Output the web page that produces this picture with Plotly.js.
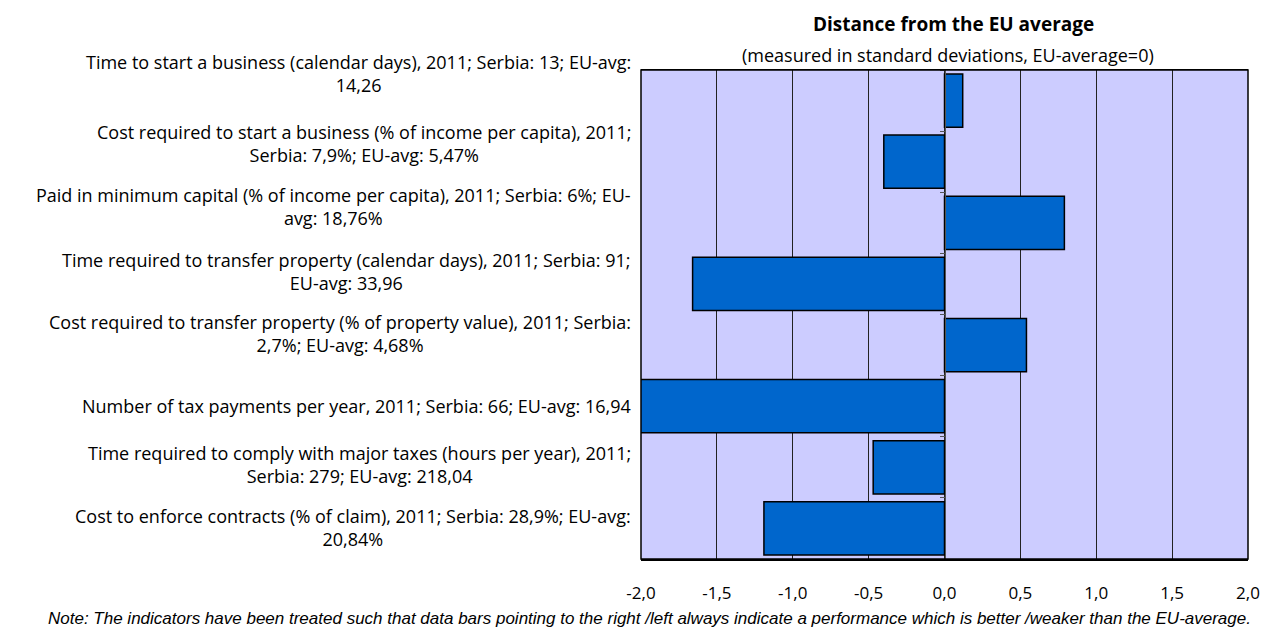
<!DOCTYPE html>
<html>
<head>
<meta charset="utf-8">
<script src="https://cdn.plot.ly/plotly-3.0.1.min.js"></script>
<style>html,body{margin:0;padding:0;background:#fff;}#chart{width:1272px;height:628px;}</style>
</head>
<body>
<div id="chart"></div>
<script>
var categories = [
  "Time to start a business (calendar days), 2011; Serbia: 13; EU-avg:<br>14,26",
  "Cost required to start a business (% of income per capita), 2011;<br>Serbia: 7,9%; EU-avg: 5,47%",
  "Paid in minimum capital (% of income per capita), 2011; Serbia: 6%; EU-<br>avg: 18,76%",
  "Time required to transfer property (calendar days), 2011; Serbia: 91;<br>EU-avg: 33,96",
  "Cost required to transfer property (% of property value), 2011; Serbia:<br>2,7%; EU-avg: 4,68%",
  "Number of tax payments per year, 2011; Serbia: 66; EU-avg: 16,94",
  "Time required to comply with major taxes (hours per year), 2011;<br>Serbia: 279; EU-avg: 218,04",
  "Cost to enforce contracts (% of claim), 2011; Serbia: 28,9%; EU-avg:<br>20,84%"
];
var catIds = ["c1","c2","c3","c4","c5","c6","c7","c8"];
var distance = [0.12, -0.40, 0.79, -1.66, 0.54, -2.05, -0.47, -1.19];
var xTicks = [-2.0, -1.5, -1.0, -0.5, 0.0, 0.5, 1.0, 1.5, 2.0];
var xTickText = ["-2,0", "-1,5", "-1,0", "-0,5", "0,0", "0,5", "1,0", "1,5", "2,0"];

// vertical offsets of the wrapped category labels (px), as placed in the original
var labelShift = [27, 18, 16, 12, 12, 0, 3, 1];

var labelFont = {family: "'Open Sans', 'Noto Sans', sans-serif", size: 18, color: "#000"};

var annotations = categories.map(function(c, i){
  return {xref:"paper", yref:"y", x:0, y:catIds[i], xanchor:"right", yanchor:"middle",
    xshift:-8, yshift:labelShift[i], align:"center", showarrow:false, text:c, font:labelFont};
});
annotations.push({xref:"paper", yref:"paper", x:0.5, xshift:9, y:1, yshift:46, xanchor:"center", yanchor:"middle",
  showarrow:false, text:"<b>Distance from the EU average</b>",
  font:{family:"'Open Sans', sans-serif", size:19, color:"#000"}});
annotations.push({xref:"paper", yref:"paper", x:0.5, xshift:3, y:1, yshift:15, xanchor:"center", yanchor:"middle",
  showarrow:false, text:"(measured in standard deviations, EU-average=0)",
  font:{family:"'Open Sans', sans-serif", size:18, color:"#000"}});
annotations.push({xref:"paper", yref:"paper", x:0.5, xshift:-295, y:0, yshift:-59, xanchor:"center", yanchor:"middle",
  showarrow:false, text:"<i>Note: The indicators have been treated such that data bars pointing to the right /left always indicate a performance which is better /weaker than the EU-average.</i>",
  font:{family:"'Liberation Sans', Arial, sans-serif", size:17, color:"#000"}});

var trace = {
  type:"bar", orientation:"h", x:distance, y:catIds,
  marker:{color:"#0066CC", line:{color:"#000", width:1.5}},
  hoverinfo:"x", yaxis:"y"
};

var layout = {
  width:1272, height:628,
  margin:{l:641, r:24, t:70, b:69},
  paper_bgcolor:"#fff", plot_bgcolor:"#CCCCFF",
  showlegend:false,
  bargap:0.13,
  xaxis:{range:[-2,2], tickmode:"array", tickvals:xTicks, ticktext:xTickText, showgrid:true, gridcolor:"#222", gridwidth:1,
    zeroline:true, zerolinecolor:"#222", zerolinewidth:1, ticks:"", ticklabelstandoff:18,
    showline:true, mirror:true, linecolor:"#000", linewidth:1.5,
    tickfont:{family:"'Open Sans', sans-serif", size:17, color:"#000"}, fixedrange:true},
  yaxis:{type:"category", categoryorder:"array", categoryarray:catIds, autorange:"reversed",
    anchor:"free", position:0.5, showline:true, linecolor:"#555", linewidth:1,
    ticks:"outside", ticklen:5, tickcolor:"#555", tickson:"boundaries", showticklabels:false,
    showgrid:false, zeroline:false, fixedrange:true},
  shapes:[{type:"rect", xref:"paper", yref:"paper", x0:0, x1:1, y0:0, y1:1, line:{color:"#000", width:1.5}}],
  annotations:annotations
};

Plotly.newPlot("chart", [trace], layout, {displayModeBar:false, staticPlot:true});
</script>
</body>
</html>
